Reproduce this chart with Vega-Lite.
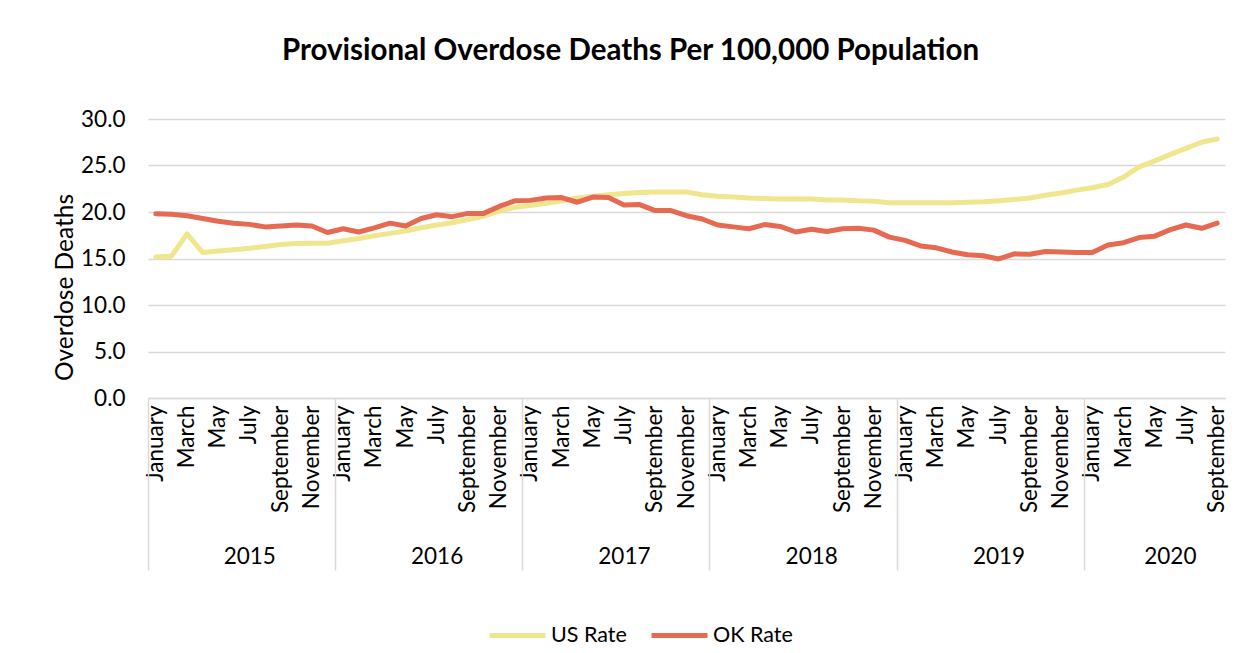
{
  "$schema": "https://vega.github.io/schema/vega-lite/v6.json",
  "autosize": {"type": "none"},
  "width": 1077,
  "height": 279,
  "padding": {"left": 148, "top": 119, "right": 21, "bottom": 255},
  "background": "white",
  "title": {
    "text": "Provisional Overdose Deaths Per 100,000 Population",
    "font": "Lato",
    "fontSize": 29.5,
    "fontWeight": "bold",
    "color": "#000000",
    "anchor": "middle",
    "frame": "group",
    "dx": -56,
    "offset": 42
  },
  "config": {
    "font": "Lato",
    "view": {"stroke": null}
  },
  "data": {
    "values": [
      {"m": "2015-01", "us": 15.15, "ok": 19.8},
      {"m": "2015-02", "us": 15.25, "ok": 19.75},
      {"m": "2015-03", "us": 17.65, "ok": 19.6},
      {"m": "2015-04", "us": 15.65, "ok": 19.3},
      {"m": "2015-05", "us": 15.8, "ok": 19.0},
      {"m": "2015-06", "us": 15.95, "ok": 18.8},
      {"m": "2015-07", "us": 16.1, "ok": 18.67},
      {"m": "2015-08", "us": 16.3, "ok": 18.4},
      {"m": "2015-09", "us": 16.5, "ok": 18.5},
      {"m": "2015-10", "us": 16.6, "ok": 18.6},
      {"m": "2015-11", "us": 16.65, "ok": 18.5},
      {"m": "2015-12", "us": 16.65, "ok": 17.8},
      {"m": "2016-01", "us": 16.9, "ok": 18.2},
      {"m": "2016-02", "us": 17.15, "ok": 17.85},
      {"m": "2016-03", "us": 17.45, "ok": 18.3},
      {"m": "2016-04", "us": 17.7, "ok": 18.8},
      {"m": "2016-05", "us": 17.95, "ok": 18.5},
      {"m": "2016-06", "us": 18.3, "ok": 19.3},
      {"m": "2016-07", "us": 18.6, "ok": 19.7},
      {"m": "2016-08", "us": 18.85, "ok": 19.5},
      {"m": "2016-09", "us": 19.2, "ok": 19.85},
      {"m": "2016-10", "us": 19.55, "ok": 19.85},
      {"m": "2016-11", "us": 20.1, "ok": 20.6},
      {"m": "2016-12", "us": 20.5, "ok": 21.2},
      {"m": "2017-01", "us": 20.7, "ok": 21.25},
      {"m": "2017-02", "us": 20.95, "ok": 21.5},
      {"m": "2017-03", "us": 21.2, "ok": 21.55},
      {"m": "2017-04", "us": 21.5, "ok": 21.05},
      {"m": "2017-05", "us": 21.7, "ok": 21.6},
      {"m": "2017-06", "us": 21.85, "ok": 21.55},
      {"m": "2017-07", "us": 22.0, "ok": 20.75},
      {"m": "2017-08", "us": 22.1, "ok": 20.8},
      {"m": "2017-09", "us": 22.15, "ok": 20.15},
      {"m": "2017-10", "us": 22.15, "ok": 20.15},
      {"m": "2017-11", "us": 22.15, "ok": 19.6},
      {"m": "2017-12", "us": 21.85, "ok": 19.25},
      {"m": "2018-01", "us": 21.7, "ok": 18.6},
      {"m": "2018-02", "us": 21.6, "ok": 18.4},
      {"m": "2018-03", "us": 21.5, "ok": 18.2},
      {"m": "2018-04", "us": 21.45, "ok": 18.65},
      {"m": "2018-05", "us": 21.4, "ok": 18.45},
      {"m": "2018-06", "us": 21.4, "ok": 17.85},
      {"m": "2018-07", "us": 21.4, "ok": 18.15},
      {"m": "2018-08", "us": 21.3, "ok": 17.9},
      {"m": "2018-09", "us": 21.3, "ok": 18.2},
      {"m": "2018-10", "us": 21.2, "ok": 18.25},
      {"m": "2018-11", "us": 21.15, "ok": 18.05},
      {"m": "2018-12", "us": 21.0, "ok": 17.3},
      {"m": "2019-01", "us": 21.0, "ok": 16.95},
      {"m": "2019-02", "us": 21.0, "ok": 16.35},
      {"m": "2019-03", "us": 21.0, "ok": 16.15},
      {"m": "2019-04", "us": 21.0, "ok": 15.7},
      {"m": "2019-05", "us": 21.05, "ok": 15.4},
      {"m": "2019-06", "us": 21.1, "ok": 15.3},
      {"m": "2019-07", "us": 21.2, "ok": 14.95},
      {"m": "2019-08", "us": 21.35, "ok": 15.5},
      {"m": "2019-09", "us": 21.5, "ok": 15.45},
      {"m": "2019-10", "us": 21.8, "ok": 15.75},
      {"m": "2019-11", "us": 22.05, "ok": 15.7},
      {"m": "2019-12", "us": 22.35, "ok": 15.65},
      {"m": "2020-01", "us": 22.6, "ok": 15.65},
      {"m": "2020-02", "us": 22.95, "ok": 16.45},
      {"m": "2020-03", "us": 23.75, "ok": 16.7},
      {"m": "2020-04", "us": 24.85, "ok": 17.25},
      {"m": "2020-05", "us": 25.5, "ok": 17.4},
      {"m": "2020-06", "us": 26.2, "ok": 18.1},
      {"m": "2020-07", "us": 26.85, "ok": 18.6},
      {"m": "2020-08", "us": 27.5, "ok": 18.25},
      {"m": "2020-09", "us": 27.85, "ok": 18.8}
    ]
  },
  "resolve": {"axis": {"x": "independent"}},
  "layer": [
    {
      "mark": {"type": "line", "strokeWidth": 5, "strokeCap": "round", "strokeJoin": "round"},
      "encoding": {
        "x": {
          "field": "m",
          "type": "ordinal",
          "scale": {"type": "band", "paddingInner": 0, "paddingOuter": 0},
          "axis": {
            "orient": "bottom",
            "title": null,
            "ticks": false,
            "domain": true,
            "domainColor": "#d9d9d9",
            "domainWidth": 1.5,
            "labelAngle": -90,
            "labelAlign": "right",
            "labelBaseline": "middle",
            "labelPadding": 7,
            "labelFontSize": 22.5,
            "labelColor": "#000000",
            "labelOverlap": false,
            "labelBound": false,
            "labelExpr": "toNumber(substring(datum.value, 5, 7)) % 2 == 1 ? ['January','February','March','April','May','June','July','August','September','October','November','December'][toNumber(substring(datum.value, 5, 7)) - 1] : ''"
          }
        },
        "y": {
          "field": "us",
          "type": "quantitative",
          "scale": {"domain": [0, 30], "nice": false},
          "axis": {
            "title": "Overdose Deaths",
            "titleFontSize": 24.5,
            "titleFontWeight": "normal",
            "titleColor": "#000000",
            "titleBaseline": "alphabetic",
            "titleX": -76,
            "titleY": 168,
            "values": [0, 5, 10, 15, 20, 25, 30],
            "format": ".1f",
            "domain": false,
            "ticks": false,
            "grid": true,
            "gridColor": "#d9d9d9",
            "gridWidth": 1.5,
            "labelPadding": 23,
            "labelFontSize": 22.5,
            "labelColor": "#000000"
          }
        },
        "color": {
          "datum": "US Rate",
          "type": "nominal",
          "scale": {"domain": ["US Rate", "OK Rate"], "range": ["#f0e68e", "#e66a51"]},
          "legend": {
            "title": null,
            "orient": "none",
            "direction": "horizontal",
            "legendX": 339,
            "legendY": 486,
            "padding": 0,
            "symbolType": "stroke",
            "symbolSize": 3136,
            "symbolStrokeWidth": 5,
            "labelFontSize": 21.5,
            "labelColor": "#000000",
            "labelOffset": 3,
            "columnPadding": 14
          }
        }
      }
    },
    {
      "mark": {"type": "line", "strokeWidth": 5, "strokeCap": "round", "strokeJoin": "round"},
      "encoding": {
        "x": {
          "field": "m",
          "type": "ordinal",
          "axis": {
            "orient": "bottom",
            "title": null,
            "domain": false,
            "ticks": true,
            "tickSize": 172,
            "tickColor": "#d9d9d9",
            "tickWidth": 1.5,
            "bandPosition": 0,
            "values": ["2015-01", "2016-01", "2017-01", "2018-01", "2019-01", "2020-01"],
            "labelExpr": "substring(datum.value, 0, 4)",
            "labelAngle": 0,
            "labelAlign": "center",
            "labelBaseline": "top",
            "labelPadding": -25,
            "labelOffset": {"condition": {"test": "datum.value == '2020-01'", "value": 78}, "value": 94},
            "labelFontSize": 22.5,
            "labelColor": "#000000",
            "labelOverlap": false,
            "labelBound": false
          }
        },
        "y": {
          "field": "ok",
          "type": "quantitative",
          "axis": {
            "title": "Overdose Deaths",
            "titleFontSize": 24.5,
            "titleFontWeight": "normal",
            "titleColor": "#000000",
            "titleBaseline": "alphabetic",
            "titleX": -76,
            "titleY": 168,
            "values": [0, 5, 10, 15, 20, 25, 30],
            "format": ".1f",
            "domain": false,
            "ticks": false,
            "grid": true,
            "gridColor": "#d9d9d9",
            "gridWidth": 1.5,
            "labelPadding": 23,
            "labelFontSize": 22.5,
            "labelColor": "#000000"
          }
        },
        "color": {"datum": "OK Rate", "type": "nominal"}
      }
    }
  ]
}
